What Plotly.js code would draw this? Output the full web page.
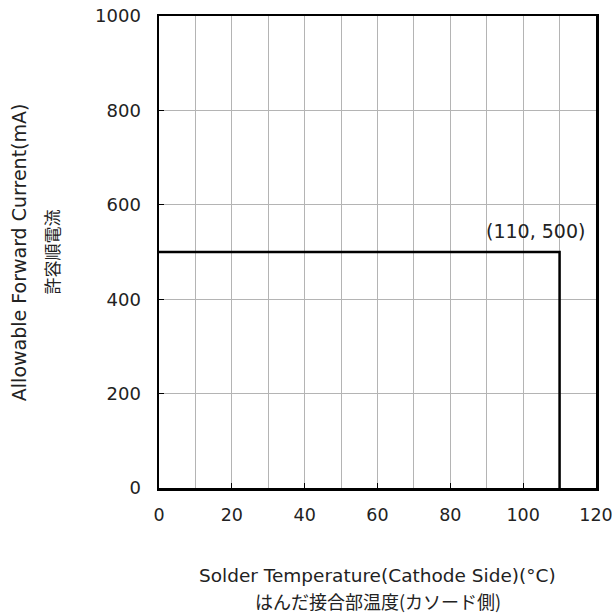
<!DOCTYPE html>
<html><head><meta charset="utf-8">
<script src="https://cdn.plot.ly/plotly-3.0.1.min.js"></script>
<style>html,body{margin:0;padding:0;background:#fff}</style>
</head><body><div id="c" style="width:612px;height:614px"></div>
<script>
const temperature = [0, 110, 110];
const current = [500, 500, 0];
const xTicks = [0, 20, 40, 60, 80, 100, 120];
const yTicks = [0, 200, 400, 600, 800, 1000];
const pointLabel = '(110, 500)';
const xTitle1 = 'Solder Temperature(Cathode Side)(°C)';
const xTitle2 = 'はんだ接合部温度(カソード側)';
const yTitle1 = 'Allowable Forward Current(mA)';
const yTitle2 = '許容順電流';

const F = '"DejaVu Sans", Verdana, sans-serif';
const FJ = '"Noto Sans CJK JP", "DejaVu Sans", sans-serif';
const C = '#222';
const trace = {x: temperature, y: current, mode: 'lines', type: 'scatter',
  line: {color: '#000', width: 2.5}, hoverinfo: 'skip'};
const layout = {
  width: 612, height: 614,
  margin: {l: 159, r: 16, t: 16, b: 126},
  showlegend: false,
  paper_bgcolor: '#fff', plot_bgcolor: '#fff',
  font: {family: F, size: 18, color: C},
  xaxis: {range: [0, 120], tickvals: xTicks, ticktext: xTicks.map(String),
    ticks: 'inside', ticklen: 5, tickcolor: '#000', tickwidth: 1,
    tickfont: {family: F, size: 17.5, color: C},
    ticklabeloverflow: 'allow',
    showgrid: true, gridcolor: '#b4b4b4', gridwidth: 1,
    minor: {dtick: 10, tick0: 0, showgrid: true, gridcolor: '#b4b4b4', gridwidth: 1, ticks: ''},
    showline: true, linecolor: '#000', linewidth: 2.5, mirror: true,
    zeroline: false, ticklabelstandoff: 9, fixedrange: true},
  yaxis: {range: [0, 1000], tickvals: yTicks, ticktext: yTicks.map(String),
    ticks: 'inside', ticklen: 5, tickcolor: '#000', tickwidth: 1,
    ticklabeloverflow: 'allow',
    showgrid: true, gridcolor: '#b4b4b4', gridwidth: 1,
    showline: true, linecolor: '#000', linewidth: 2.5, mirror: true,
    zeroline: false, ticklabelstandoff: 12, fixedrange: true},
  annotations: [
    {text: pointLabel, x: 103.5, y: 545, xref: 'x', yref: 'y', showarrow: false,
     font: {family: F, size: 19, color: C}},
    {text: xTitle1, x: 0.5, y: -0.185, xref: 'paper', yref: 'paper', yanchor: 'middle', showarrow: false,
     font: {family: F, size: 18.5, color: C}},
    {text: xTitle2, x: 0.5, y: -0.24, xref: 'paper', yref: 'paper', yanchor: 'middle', showarrow: false,
     font: {family: FJ, size: 18, color: C}},
    {text: yTitle1, x: -0.32, y: 0.5, xref: 'paper', yref: 'paper', xanchor: 'center', showarrow: false, textangle: -90,
     font: {family: F, size: 19, color: C}},
    {text: yTitle2, x: -0.248, y: 0.5, xref: 'paper', yref: 'paper', xanchor: 'center', showarrow: false, textangle: -90,
     font: {family: FJ, size: 17, color: C}}
  ]
};
Plotly.newPlot('c', [trace], layout, {staticPlot: true, displayModeBar: false});
</script></body></html>
